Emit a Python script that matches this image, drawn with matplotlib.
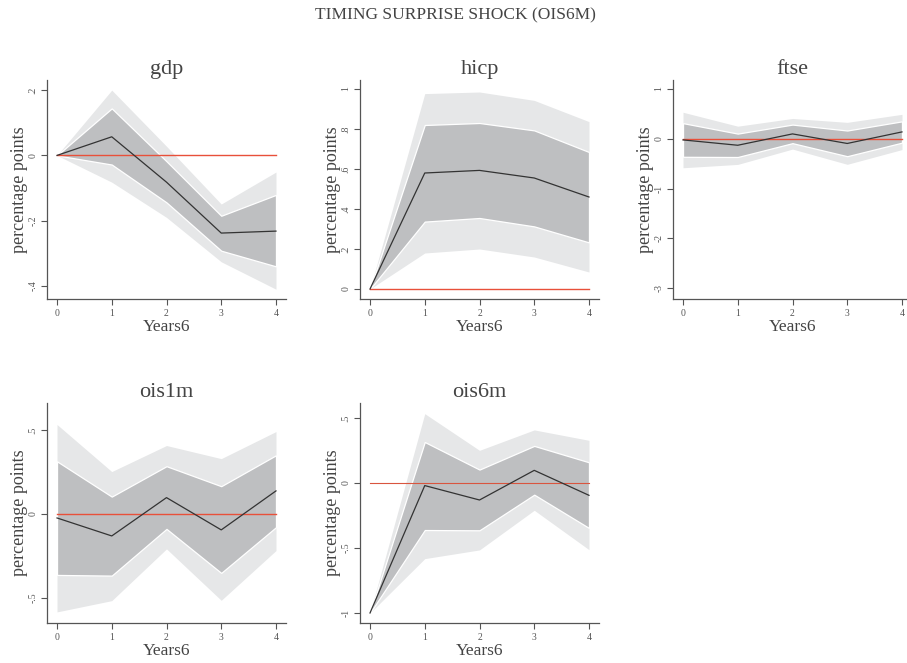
import numpy as np
import matplotlib
matplotlib.use("Agg")
import matplotlib.pyplot as plt

plt.rcParams['font.family'] = ['Liberation Serif', 'DejaVu Serif']

# horizon (years)
steps = [0, 1, 2, 3, 4]

# impulse responses: median, 68% band, 90% band
gdp_med = [0, 0.057, -0.082, -0.238, -0.232]
gdp_lo68 = [0, -0.028, -0.144, -0.292, -0.34]
gdp_hi68 = [0, 0.144, -0.018, -0.185, -0.121]
gdp_lo90 = [0, -0.082, -0.19, -0.326, -0.41]
gdp_hi90 = [0, 0.2, 0.028, -0.149, -0.051]

hicp_med = [0, 0.58, 0.593, 0.555, 0.46]
hicp_lo68 = [0, 0.337, 0.355, 0.313, 0.233]
hicp_hi68 = [0, 0.82, 0.83, 0.793, 0.685]
hicp_lo90 = [0, 0.18, 0.2, 0.16, 0.085]
hicp_hi90 = [0, 0.977, 0.985, 0.943, 0.837]

ftse_med = [-0.024, -0.131, 0.097, -0.095, 0.137]
ftse_lo68 = [-0.363, -0.367, -0.089, -0.351, -0.079]
ftse_hi68 = [0.313, 0.103, 0.284, 0.165, 0.349]
ftse_lo90 = [-0.583, -0.516, -0.208, -0.514, -0.218]
ftse_hi90 = [0.532, 0.252, 0.407, 0.329, 0.49]

ois1m_med = [-0.024, -0.131, 0.097, -0.095, 0.137]
ois1m_lo68 = [-0.363, -0.367, -0.089, -0.351, -0.079]
ois1m_hi68 = [0.313, 0.103, 0.284, 0.165, 0.349]
ois1m_lo90 = [-0.583, -0.516, -0.208, -0.514, -0.218]
ois1m_hi90 = [0.532, 0.252, 0.407, 0.329, 0.49]

ois6m_med = [-1, -0.02, -0.131, 0.097, -0.095]
ois6m_lo68 = [-1, -0.362, -0.364, -0.09, -0.346]
ois6m_hi68 = [-1, 0.315, 0.103, 0.285, 0.159]
ois6m_lo90 = [-1, -0.582, -0.515, -0.21, -0.513]
ois6m_hi90 = [-1, 0.533, 0.251, 0.408, 0.328]

panels = [
    ("gdp", gdp_med, gdp_lo68, gdp_hi68, gdp_lo90, gdp_hi90,
     [0.2, 0, -0.2, -0.4], [".2", "0", "-.2", "-.4"], (-0.44, 0.231)),
    ("hicp", hicp_med, hicp_lo68, hicp_hi68, hicp_lo90, hicp_hi90,
     [0, 0.2, 0.4, 0.6, 0.8, 1], ["0", ".2", ".4", ".6", ".8", "1"], (-0.05, 1.045)),
    ("ftse", ftse_med, ftse_lo68, ftse_hi68, ftse_lo90, ftse_hi90,
     [1, 0, -1, -2, -3], ["1", "0", "-1", "-2", "-3"], (-3.22, 1.18)),
    ("ois1m", ois1m_med, ois1m_lo68, ois1m_hi68, ois1m_lo90, ois1m_hi90,
     [0.5, 0, -0.5], [".5", "0", "-.5"], (-0.649, 0.66)),
    ("ois6m", ois6m_med, ois6m_lo68, ois6m_hi68, ois6m_lo90, ois6m_hi90,
     [0.5, 0, -0.5, -1], [".5", "0", "-.5", "-1"], (-1.077, 0.615)),
]

W, H = 907, 663
# axes boxes in pixels: left, top, width, height
boxes = [(47, 80, 239, 219), (360, 80, 239, 219), (673, 80, 239, 219),
         (47, 403, 239, 220), (360, 403, 239, 220)]

fig = plt.figure(figsize=(W / 100, H / 100), dpi=100)
fig.text(0.502, 1 - 15 / H, "TIMING SURPRISE SHOCK (OIS6M)", ha="center", va="center",
         fontsize=12.5, color="#444444")

axis_col = "#555555"
band90 = "#e6e7e8"
band68 = "#bebfc1"

for (name, med, lo68, hi68, lo90, hi90, yt, ytl, ylim), (l, t, w, h) in zip(panels, boxes):
    ax = fig.add_axes([l / W, 1 - (t + h) / H, w / W, h / H])
    ax.fill_between(steps, lo90, hi90, color=band90, lw=0, zorder=1)
    ax.fill_between(steps, lo68, hi68, facecolor=band68, edgecolor="white", lw=0.9, zorder=2)
    if name == "ois6m":
        ax.plot([0, 4], [0, 0], color="#d9553f", lw=0.8, zorder=3)
    else:
        ax.plot([0, 4], [0, 0], color="#e8503a", lw=1.0, zorder=3)
    ax.plot(steps, med, color="#333333", lw=0.9, zorder=4)

    ax.set_xlim(-0.183, 4.183)
    ax.set_ylim(*ylim)
    ax.set_xticks(steps)
    ax.set_xticklabels([str(s) for s in steps])
    ax.set_yticks(yt)
    ax.set_yticklabels(ytl, rotation=90, va="center")

    for side in ("top", "right"):
        ax.spines[side].set_visible(False)
    for side in ("left", "bottom"):
        ax.spines[side].set_color(axis_col)
        ax.spines[side].set_linewidth(0.9)
    ax.tick_params(axis="both", direction="out", length=4, width=0.8, color=axis_col,
                   labelsize=7, labelcolor="#555555", pad=3)

    ax.set_title(name, fontsize=16, color="#444444", pad=4)
    ax.set_xlabel("Years6", fontsize=12.5, color="#444444", labelpad=1)
    ax.set_ylabel("percentage points", fontsize=13, color="#444444", labelpad=0)

fig.savefig("out.png", dpi=100)
